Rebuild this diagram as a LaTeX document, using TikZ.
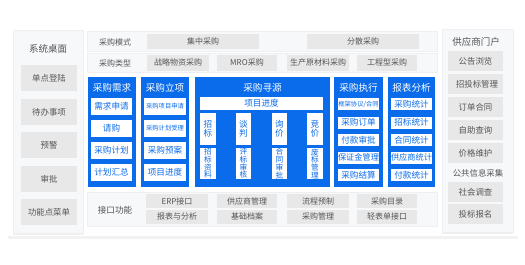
\documentclass[tikz,border=0pt]{standalone}
\usepackage{fontspec}
\setmainfont{Noto Sans CJK SC}
\usetikzlibrary{shadows}
\definecolor{bluec}{HTML}{0B6CEB}
\definecolor{grayc}{HTML}{E8E8E8}
\definecolor{txtc}{HTML}{555555}
\definecolor{panelc}{HTML}{F7F8FA}
\definecolor{panelline}{HTML}{EDEFF2}
\newcommand{\fs}[1]{\fontsize{#1}{#1}\selectfont}
\newcommand{\mybox}[7]{%
  \pgfmathsetmacro\cxx{(#3+#5)/2}\pgfmathsetmacro\cyy{(#4+#6)/2}%
  \pgfmathsetmacro\ww{#5-#3}\pgfmathsetmacro\hh{#6-#4}%
  \node[#1, minimum width=\ww pt, minimum height=\hh pt] (#2) at (\cxx,\cyy) {#7};}
\begin{document}
\begin{tikzpicture}[x=1pt,y=-1pt,
  every node/.style={inner sep=0pt,outer sep=0pt,rectangle},
  panel/.style={fill=panelc,draw=panelline,line width=0.4pt},
  sidepanel/.style={fill=panelc,draw=panelline,line width=0.4pt,drop shadow={shadow xshift=0pt,shadow yshift=-1.5pt,opacity=0.12}},
  gbox/.style={fill=grayc,text=txtc,font=\fs{8}},
  sbox/.style={fill=grayc,text=txtc,font=\fs{8.4}},
  lbl/.style={text=txtc,font=\fs{8}},
  ttl/.style={text=txtc,font=\fs{9.5}},
  bcol/.style={fill=bluec},
  btitle/.style={text=white,font=\fs{9.6}},
  wbox/.style={fill=white,text=bluec,font=\fs{8.6}},
  wsmall/.style={fill=white,text=bluec,font=\fs{6.3}},
  vbox/.style={fill=white,text=bluec,font=\fs{8.6},align=center},
  vbox4/.style={fill=white,text=bluec,font=\fs{7.7},align=center}
]
\useasboundingbox (0,0) rectangle (525,265);
\fill[white] (0,0) rectangle (525,265);
\fill[black,opacity=0.05] (8,236) rectangle (518,239);

% left panel
\mybox{sidepanel}{lp}{13}{30}{83}{233}{}
\node[ttl] (lpt) at (48,49) {系统桌面};
\mybox{sbox}{l1}{21}{65}{77}{91}{单点登陆}
\mybox{sbox}{l2}{21}{99}{77}{125}{待办事项}
\mybox{sbox}{l3}{21}{132}{77}{158}{预警}
\mybox{sbox}{l4}{21}{166}{77}{192}{审批}
\mybox{sbox}{l5}{21}{199}{77}{225}{功能点菜单}

% right panel
\mybox{sidepanel}{rp}{442}{29}{513}{232}{}
\node[ttl] (rpt) at (476,42) {供应商门户};
\mybox{sbox}{r1}{448}{51}{503}{71}{公告浏览}
\mybox{sbox}{r2}{448}{74}{503}{94}{\hspace*{3pt}招投标管理}
\mybox{sbox}{r3}{448}{97}{503}{117}{订单合同}
\mybox{sbox}{r4}{448}{120}{503}{140}{自助查询}
\mybox{sbox}{r5}{448}{143}{503}{163}{价格维护}
\node[ttl,font=\fs{8.4}] (rpt2) at (478,173) {公共信息采集};
\mybox{sbox}{r6}{448}{182}{503}{202}{社会调查}
\mybox{sbox}{r7}{448}{204}{503}{224}{投标报名}

% top rows
\mybox{panel}{row1}{87}{31.5}{437}{51}{}
\node[lbl] (row1l) at (115,42) {采购模式};
\mybox{gbox}{m1}{147}{33.5}{259}{49}{集中采购}
\mybox{gbox}{m2}{307}{33.5}{419}{49}{分散采购}
\mybox{panel}{row2}{87}{53}{437}{72}{}
\node[lbl] (row2l) at (115,63) {采购类型};
\mybox{gbox}{t1}{147}{55}{209}{70.5}{战略物资采购}
\mybox{gbox}{t2}{217}{55}{277}{70.5}{MRO采购}
\mybox{gbox}{t3}{287}{55}{349}{70.5}{生产原材料采购}
\mybox{gbox}{t4}{357}{55}{417}{70.5}{工程型采购}

% blue columns
\mybox{bcol}{c1}{88}{77}{136}{187}{}
\mybox{bcol}{c2}{141}{77}{189}{187}{}
\mybox{bcol}{c3}{195}{77}{330}{187}{}
\mybox{bcol}{c4}{334}{77}{383}{187}{}
\mybox{bcol}{c5}{388}{77}{435}{187}{}
\node[btitle] (c1t) at (112,88) {采购需求};
\node[btitle] (c2t) at (165,88) {采购立项};
\node[btitle] (c3t) at (262.5,88) {采购寻源};
\node[btitle] (c4t) at (358.5,88) {采购执行};
\node[btitle] (c5t) at (411.5,88) {报表分析};

% col1
\mybox{wbox}{a1}{91}{98}{132}{114.5}{需求申请}
\mybox{wbox}{a2}{91}{120}{132}{136.5}{请购}
\mybox{wbox}{a3}{91}{142}{132}{158.5}{采购计划}
\mybox{wbox}{a4}{91}{164}{132}{180.5}{计划汇总}
% col2
\mybox{wsmall}{b1}{144}{98}{186}{114.5}{采购项目申请}
\mybox{wsmall}{b2}{144}{120}{186}{136.5}{采购计划受理}
\mybox{wbox}{b3}{144}{142}{186}{158.5}{采购预案}
\mybox{wbox}{b4}{144}{164}{186}{180.5}{项目进度}
% col3
\mybox{wbox}{s0}{200}{97}{323}{110}{项目进度}
\mybox{vbox}{s1}{200}{113}{216}{145}{招\\标}
\mybox{vbox}{s2}{236}{113}{251}{145}{谈\\判}
\mybox{vbox}{s3}{272}{113}{287}{145}{询\\价}
\mybox{vbox}{s4}{307}{113}{323}{145}{竞\\价}
\mybox{vbox4}{s5}{200}{148}{216}{179}{招\\标\\资\\料}
\mybox{vbox4}{s6}{236}{148}{251}{179}{评\\标\\审\\核}
\mybox{vbox4}{s7}{272}{148}{287}{179}{合\\同\\审\\批}
\mybox{vbox4}{s8}{307}{148}{323}{179}{废\\标\\管\\理}
% col4
\mybox{wsmall}{e1}{338}{98}{379}{110}{框架协议/合同}
\mybox{wbox}{e2}{338}{116.5}{379}{128.5}{采购订单}
\mybox{wbox}{e3}{338}{134}{379}{146}{付款审批}
\mybox{wbox}{e4}{338}{151.5}{379}{163.5}{\fs{8.2}保证金管理}
\mybox{wbox}{e5}{338}{169}{379}{181}{采购结算}
% col5
\mybox{wbox}{f1}{391}{98}{432}{110}{采购统计}
\mybox{wbox}{f2}{391}{116.5}{432}{128.5}{招标统计}
\mybox{wbox}{f3}{391}{134}{432}{146}{合同统计}
\mybox{wbox}{f4}{391}{151.5}{432}{163.5}{\fs{8.2}供应商统计}
\mybox{wbox}{f5}{391}{169}{432}{181}{付款统计}

% bottom
\mybox{panel}{bot}{87}{192}{437}{226}{}
\node[lbl,font=\fs{8.6}] (botl) at (115,210) {接口功能};
\mybox{gbox}{i1}{146}{194}{208}{208}{ERP接口}
\mybox{gbox}{i2}{217}{194}{277}{208}{供应商管理}
\mybox{gbox}{i3}{287}{194}{349}{208}{流程预制}
\mybox{gbox}{i4}{357}{194}{417}{208}{采购目录}
\mybox{gbox}{i5}{146}{210}{208}{223.5}{报表与分析}
\mybox{gbox}{i6}{217}{210}{277}{223.5}{基础档案}
\mybox{gbox}{i7}{287}{210}{349}{223.5}{采购管理}
\mybox{gbox}{i8}{357}{210}{417}{223.5}{轻表单接口}
\end{tikzpicture}
\end{document}
